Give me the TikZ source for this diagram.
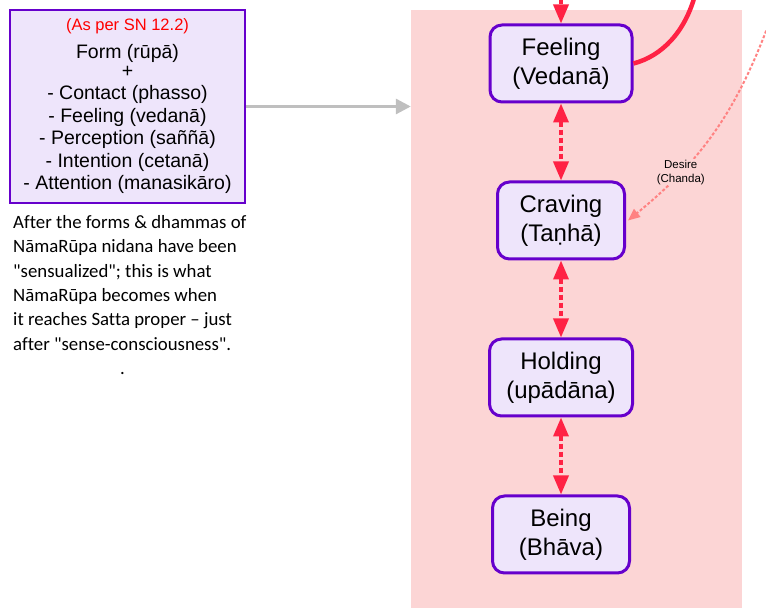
\documentclass[tikz,border=0pt]{standalone}
\usepackage{fontspec}
\setmainfont{Liberation Sans}
\newfontfamily\calibri[Ligatures={NoCommon}]{Carlito}
\usetikzlibrary{arrows.meta}
\definecolor{boxline}{HTML}{6600CC}
\definecolor{boxfill}{HTML}{EEE5FB}
\definecolor{sattabg}{HTML}{FCD5D5}
\definecolor{linkred}{HTML}{FF2244}
\definecolor{desirered}{HTML}{FF8282}
\definecolor{greyarrow}{HTML}{BFBFBF}

\begin{document}
\begin{tikzpicture}[x=1pt, y=1pt, node distance = 157pt,
    nidana/.style={draw=boxline, line width=3pt, fill=boxfill, rounded corners=12pt,
      minimum height=77pt, align=center, font=\fontsize{24}{29}\selectfont},
    link/.style={draw=linkred, line width=3.5pt, dash pattern=on 5pt off 3pt,
      >={Triangle[length=19pt,width=15pt]}, <->},
    desire/.style={draw=desirered, line width=2pt, dash pattern=on 3pt off 2pt,
      -{Triangle[length=12pt,width=10pt]}}]
  \useasboundingbox (0,0) rectangle (766,608);
  % Satta background
  \node (satta) [fill=sattabg, minimum width=331pt, minimum height=598pt, inner sep=0pt] at (576.5,299) {};
  % NamaRupa box and note
  \node (rupa) [draw=boxline, line width=2.5pt, fill=boxfill, minimum width=235pt, minimum height=193pt,
      align=center, font=\fontsize{19.5}{22.5}\selectfont] at (127.5,501.5)
      {\textcolor{red}{\fontsize{16.5}{20}\selectfont (As per SN 12.2)}\\[5pt]
       Form (rūpā)\\[-3.5pt] +\\ - Contact (phasso)\\ - Feeling (vedanā)\\ - Perception (saññā)\\
       - Intention (cetanā)\\ - Attention (manasikāro)};
  \node (note) [anchor=north west, inner sep=0pt, align=left,
      font=\calibri\fontsize{18.8}{24.4}\selectfont] at (13,393)
      {After the forms \& dhammas of\\ NāmaRūpa nidana have been\\ "sensualized"; this is what\\
       NāmaRūpa becomes when\\ it reaches Satta proper – just\\ after "sense-consciousness".\\
       \hspace*{107pt}.};
  % nidanas
  \node (feeling) [nidana, minimum width=142pt] at (561,544.5) {Feeling\\(Vedanā)};
  \node (craving) [nidana, minimum width=127pt, below of=feeling] {Craving\\(Taṇhā)};
  \node (holding) [nidana, minimum width=143pt, below of=craving] {Holding\\(upādāna)};
  \node (being) [nidana, minimum width=137pt, below of=holding] {Being\\(Bhāva)};
  \coordinate (topin) at (561,625);
  \coordinate (vedtop) at (695,613);
  \coordinate (desiresrc) at (768,582);
  \draw[greyarrow, line width=3pt, -{Triangle[length=15pt,width=15pt]}] (rupa) -- (rupa -| satta.west);
  \draw[link, ->] (topin) -- (feeling);
  \draw[link] (feeling) -- (craving);
  \draw[link] (craving) -- (holding);
  \draw[link] (holding) -- (being);
  \draw[linkred, line width=4.5pt] (feeling.east) .. controls (662,552) and (685,576) .. (vedtop);
  \draw[desire] (desiresrc) to[bend left=15] node[pos=0.72, fill=sattabg, inner sep=1pt, align=center,
      font=\fontsize{11.5}{13.5}\selectfont] {Desire\\(Chanda)} ([xshift=2pt]craving.east);
\end{tikzpicture}
\end{document}
